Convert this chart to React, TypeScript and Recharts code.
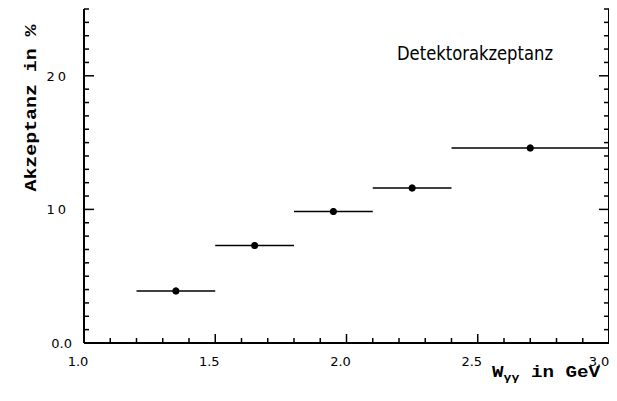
import { ScatterChart, Scatter, XAxis, YAxis, ErrorBar } from 'recharts';

// bins in W_gamma-gamma (GeV) and detector acceptance (%)
const binLow = [1.2, 1.5, 1.8, 2.1, 2.4];
const binHigh = [1.5, 1.8, 2.1, 2.4, 3.0];
const wCenter = [1.35, 1.65, 1.95, 2.25, 2.7];
const acceptance = [3.9, 7.3, 9.85, 11.6, 14.6];
const acceptanceErr = [0.25, 0.25, 0.25, 0.25, 0.25];

const xTicks = [1.0, 1.1, 1.2, 1.3, 1.4, 1.5, 1.6, 1.7, 1.8, 1.9, 2.0, 2.1, 2.2, 2.3, 2.4, 2.5, 2.6, 2.7, 2.8, 2.9, 3.0];
const yTicks = [0, 1, 2, 3, 4, 5, 6, 7, 8, 9, 10, 11, 12, 13, 14, 15, 16, 17, 18, 19, 20, 21, 22, 23, 24, 25];

const data = wCenter.map((w, i) => ({
  w,
  acc: acceptance[i],
  wErr: [w - binLow[i], binHigh[i] - w],
  accErr: acceptanceErr[i],
}));

const isMajorX = (v: number) => Math.abs(v * 2 - Math.round(v * 2)) < 1e-6;
const isMajorY = (v: number) => v % 10 === 0;

const labelFont = { fontFamily: 'DejaVu Sans', fontSize: 13, fill: '#000' };

const BottomTick = ({ x, y, payload }: any) => {
  const v = payload.value;
  const major = isMajorX(v);
  return (
    <g>
      <line x1={x} x2={x} y1={y} y2={y - (major ? 9 : 5)} stroke="#000" strokeWidth={1.5} />
      {major && (
        <text x={x - (v >= 2.9 ? 10 : 6)} y={y + 23} textAnchor="middle" {...labelFont}>{v.toFixed(1)}</text>
      )}
    </g>
  );
};

const TopTick = ({ x, y, payload }: any) => {
  const major = isMajorX(payload.value);
  return <line x1={x} x2={x} y1={y} y2={y + (major ? 9 : 5)} stroke="#000" strokeWidth={1.5} />;
};

const LeftTick = ({ x, y, payload }: any) => {
  const v = payload.value;
  const major = isMajorY(v);
  return (
    <g>
      <line x1={x} x2={x + (major ? 10 : 5)} y1={y} y2={y} stroke="#000" strokeWidth={1.5} />
      {major && (
        <text x={x - (v === 0 ? 12 : 15)} y={y + 5} textAnchor="end" letterSpacing={v === 0 ? 0 : 3} {...labelFont}>
          {v === 0 ? '0.0' : String(v)}
        </text>
      )}
    </g>
  );
};

const RightTick = ({ x, y, payload }: any) => {
  const major = isMajorY(payload.value);
  return <line x1={x} x2={x - (major ? 10 : 5)} y1={y} y2={y} stroke="#000" strokeWidth={1.5} />;
};

export default function App() {
  return (
    <div style={{ width: 609, height: 385, background: '#fff' }}>
      <ScatterChart width={609} height={385} margin={{ top: 1, right: 0, bottom: 0, left: 0 }} style={{ overflow: 'visible' }}>
        <XAxis xAxisId="bottom" dataKey="w" type="number" domain={[1, 3]} ticks={xTicks} interval={0}
          allowDataOverflow height={50} tickSize={0} tickMargin={0} tick={<BottomTick />}
          axisLine={{ stroke: '#000', strokeWidth: 2 }} />
        <XAxis xAxisId="top" orientation="top" type="number" domain={[1, 3]} ticks={xTicks} interval={0}
          allowDataOverflow height={0} tickSize={0} tickMargin={0} tick={<TopTick />}
          axisLine={{ stroke: '#000', strokeWidth: 2 }} />
        <YAxis yAxisId="left" dataKey="acc" type="number" domain={[0, 25]} ticks={yTicks} interval={0}
          allowDataOverflow width={76} tickSize={0} tickMargin={0} tick={<LeftTick />}
          axisLine={{ stroke: '#000', strokeWidth: 2 }} />
        <YAxis yAxisId="right" orientation="right" type="number" domain={[0, 25]} ticks={yTicks} interval={0}
          allowDataOverflow width={8} tickSize={0} tickMargin={0} tick={<RightTick />}
          axisLine={{ stroke: '#000', strokeWidth: 2 }} />
        <Scatter xAxisId="bottom" yAxisId="left" data={data} fill="#000" isAnimationActive={false}
          shape={(p: any) => <circle cx={p.cx} cy={p.cy} r={3.5} fill="#000" />}>
          <ErrorBar dataKey="wErr" direction="x" width={0} stroke="#000" strokeWidth={1.5} isAnimationActive={false} />
          <ErrorBar dataKey="accErr" direction="y" width={0} stroke="#000" strokeWidth={2} isAnimationActive={false} />
        </Scatter>
        <text x={389} y={52} textLength={156} lengthAdjust="spacingAndGlyphs"
          style={{ fontFamily: 'DejaVu Sans Condensed', fontSize: 19, fill: '#000' }}>
          Detektorakzeptanz
        </text>
        <text x={24} y={100} transform="rotate(-90 24 100)" textAnchor="middle" dominantBaseline="central"
          textLength={167} lengthAdjust="spacingAndGlyphs"
          style={{ fontFamily: 'Liberation Mono', fontWeight: 'bold', fontSize: 16, fill: '#000' }}>
          Akzeptanz in %
        </text>
        <text x={484} y={369} textLength={108} lengthAdjust="spacingAndGlyphs"
          style={{ fontFamily: 'Liberation Mono', fontWeight: 'bold', fontSize: 16, fill: '#000' }}>
          W<tspan fontSize={11} dy={4}>γγ</tspan><tspan dy={-4}> in GeV</tspan>
        </text>
      </ScatterChart>
    </div>
  );
}
